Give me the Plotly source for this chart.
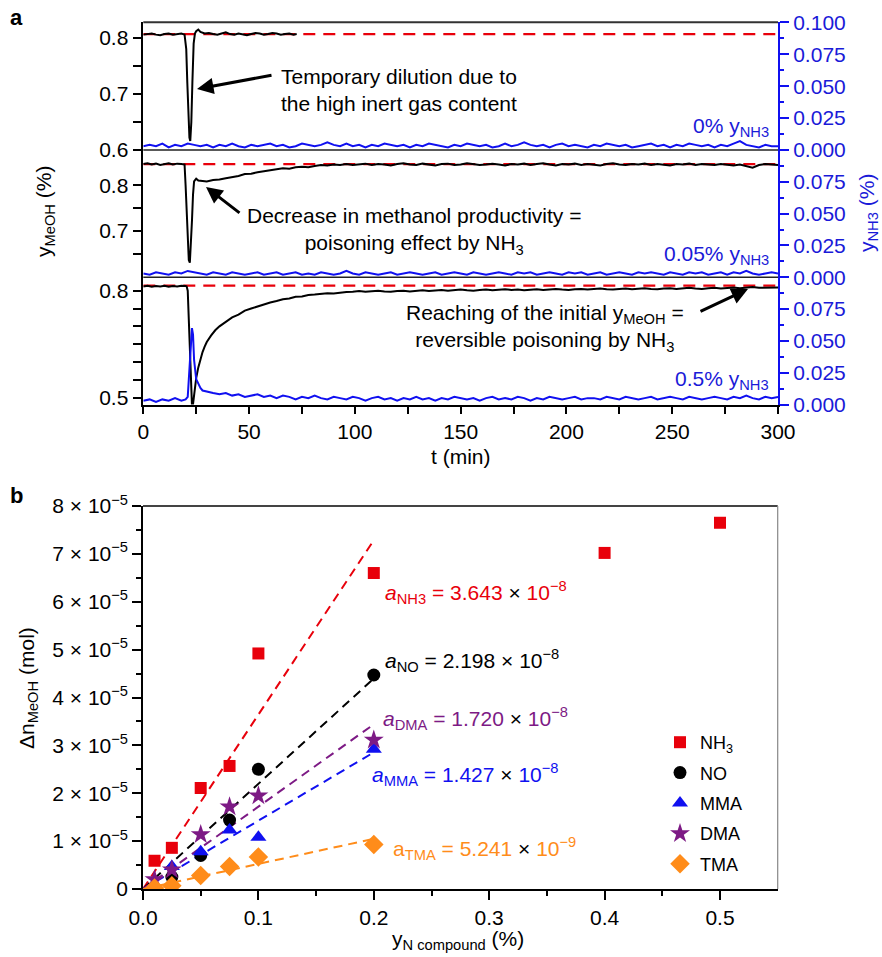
import plotly.graph_objects as go

W, H = 882, 957
def px(x): return x / W
def py(y): return 1 - y / H

# ---------------- panel a data ----------------
# panel 1 (0 % NH3) : methanol signal
t_meoh_1 = [0, 2, 4, 6, 8, 10, 12, 14, 16, 18,
            19.5, 20.3, 20.8, 21.3, 21.8, 22.2, 22.7, 23.2, 23.8, 24.4,
            25, 26, 27,
            29, 31, 33, 35, 37, 39, 41, 43, 45, 47, 49, 51, 53, 55, 57, 59, 61, 63, 65, 67, 69, 71,
            72.5]
y_meoh_1 = [0.806, 0.807, 0.808, 0.806, 0.805, 0.807, 0.808, 0.806, 0.807, 0.808,
            0.806, 0.780, 0.720, 0.660, 0.622, 0.616, 0.650, 0.720, 0.790, 0.808,
            0.812, 0.815, 0.811,
            0.808, 0.809, 0.807, 0.806, 0.808, 0.810, 0.807, 0.806, 0.808, 0.807, 0.805, 0.807,
            0.809, 0.808, 0.806, 0.807, 0.809, 0.808, 0.806, 0.807, 0.808, 0.806,
            0.807]

# panel 2 (0.05 % NH3)
t_meoh_2 = [0, 2, 4, 6, 8, 10, 12, 14, 16, 18,
            19.5, 20, 20.5, 21, 21.5, 22, 22.5, 23, 23.5, 24, 25, 26, 28] + list(range(30, 301, 3))
y_meoh_2 = [0.847, 0.849, 0.846, 0.848, 0.845, 0.847, 0.849, 0.846, 0.848, 0.847,
            0.846, 0.800, 0.742, 0.684, 0.636, 0.630, 0.664, 0.722, 0.780, 0.809, 0.815, 0.811, 0.810,
            0.809, 0.812, 0.813, 0.816, 0.818, 0.821, 0.825, 0.826, 0.829, 0.831,
            0.833, 0.835, 0.838, 0.837, 0.840, 0.841, 0.840, 0.843, 0.845, 0.844,
            0.846, 0.845, 0.847, 0.845, 0.846, 0.848, 0.845, 0.847, 0.846, 0.844,
            0.847, 0.849, 0.846, 0.845, 0.848, 0.846, 0.844, 0.847, 0.848, 0.845,
            0.846, 0.849, 0.847, 0.845, 0.846, 0.848, 0.846, 0.844, 0.847, 0.846,
            0.848, 0.845, 0.847, 0.849, 0.846, 0.844, 0.847, 0.846, 0.848, 0.845,
            0.847, 0.846, 0.844, 0.847, 0.849, 0.846, 0.845, 0.847, 0.846, 0.848,
            0.845, 0.847, 0.846, 0.844, 0.847, 0.846, 0.848, 0.845, 0.847, 0.846,
            0.845, 0.847, 0.846, 0.844, 0.846, 0.842, 0.839, 0.845, 0.847, 0.846,
            0.845]

# panel 3 (0.5 % NH3)
t_meoh_3 = [0, 2, 4, 6, 8, 10, 12, 14, 16, 18, 20,
            20.5, 21, 21.5, 22, 22.5, 23, 23.5, 24, 25, 26, 27, 28, 29, 30, 32, 34] + list(range(36, 301, 3))
y_meoh_3 = [0.812, 0.814, 0.811, 0.813, 0.812, 0.814, 0.811, 0.813, 0.812, 0.814, 0.813,
            0.812, 0.800, 0.720, 0.620, 0.530, 0.480, 0.482, 0.510, 0.555, 0.585, 0.610, 0.628,
            0.643, 0.656, 0.674, 0.689,
            0.700, 0.712, 0.725, 0.733, 0.744, 0.750, 0.756, 0.763, 0.767, 0.771,
            0.776, 0.778, 0.783, 0.784, 0.788, 0.789, 0.791, 0.793, 0.792, 0.795,
            0.796, 0.797, 0.799, 0.797, 0.798, 0.800, 0.798, 0.797, 0.799, 0.800,
            0.798, 0.800, 0.801, 0.799, 0.800, 0.802, 0.800, 0.801, 0.803, 0.801,
            0.800, 0.802, 0.803, 0.801, 0.802, 0.804, 0.802, 0.803, 0.801, 0.803,
            0.804, 0.802, 0.803, 0.805, 0.803, 0.802, 0.804, 0.805, 0.803, 0.804,
            0.806, 0.804, 0.803, 0.805, 0.806, 0.804, 0.805, 0.807, 0.805, 0.804,
            0.806, 0.807, 0.805, 0.806, 0.808, 0.806, 0.805, 0.807, 0.808, 0.806,
            0.807, 0.809, 0.807, 0.808, 0.810, 0.808, 0.809, 0.808, 0.809]

# NH3 signals (right axis)
t_nh3_12 = list(range(0, 301, 3))
y_nh3_1 = [0.003, 0.004, 0.003, 0.005, 0.002, 0.004, 0.003, 0.005, 0.004, 0.003,
           0.004, 0.002, 0.004, 0.003, 0.005, 0.003, 0.002, 0.004, 0.003, 0.004,
           0.005, 0.003, 0.004, 0.002, 0.003, 0.005, 0.004, 0.003, 0.004, 0.006,
           0.004, 0.003, 0.005, 0.003, 0.004, 0.002, 0.004, 0.003, 0.005, 0.004,
           0.003, 0.004, 0.002, 0.004, 0.003, 0.005, 0.004, 0.003, 0.002, 0.004,
           0.003, 0.005, 0.004, 0.003, 0.004, 0.002, 0.003, 0.005, 0.003, 0.004,
           0.006, 0.004, 0.003, 0.004, 0.002, 0.004, 0.005, 0.003, 0.004, 0.003,
           0.002, 0.004, 0.003, 0.005, 0.004, 0.003, 0.004, 0.002, 0.003, 0.004,
           0.005, 0.003, 0.004, 0.002, 0.004, 0.003, 0.005, 0.004, 0.003, 0.004,
           0.002, 0.004, 0.003, 0.005, 0.007, 0.004, 0.003, 0.002, 0.004, 0.003,
           0.003]
y_nh3_2 = [0.003, 0.002, 0.004, 0.003, 0.002, 0.004, 0.003, 0.005, 0.004, 0.003,
           0.002, 0.004, 0.003, 0.002, 0.004, 0.003, 0.002, 0.003, 0.004, 0.002,
           0.003, 0.004, 0.002, 0.003, 0.004, 0.002, 0.003, 0.002, 0.004, 0.003,
           0.002, 0.003, 0.005, 0.003, 0.002, 0.004, 0.003, 0.002, 0.003, 0.004,
           0.002, 0.003, 0.004, 0.003, 0.002, 0.003, 0.004, 0.002, 0.003, 0.004,
           0.003, 0.002, 0.004, 0.003, 0.002, 0.003, 0.004, 0.003, 0.002, 0.004,
           0.003, 0.004, 0.002, 0.003, 0.004, 0.003, 0.002, 0.004, 0.003, 0.004,
           0.002, 0.003, 0.004, 0.002, 0.003, 0.004, 0.003, 0.002, 0.004, 0.003,
           0.004, 0.003, 0.002, 0.004, 0.003, 0.002, 0.004, 0.003, 0.004, 0.002,
           0.003, 0.004, 0.002, 0.004, 0.003, 0.005, 0.003, 0.002, 0.003, 0.004,
           0.003]
t_nh3_3 = [0, 3, 6, 9, 12, 15, 18, 20, 21, 21.5, 22, 22.5, 23, 23.5, 24, 25, 26, 27, 28, 30] + list(range(33, 301, 3))
y_nh3_3 = [0.003, 0.004, 0.002, 0.004, 0.003, 0.005, 0.003, 0.004, 0.006, 0.020,
           0.040, 0.055, 0.060, 0.055, 0.035, 0.020, 0.016, 0.013, 0.011, 0.010,
           0.009, 0.008, 0.009, 0.007, 0.008, 0.006, 0.007, 0.008, 0.006, 0.007,
           0.005, 0.007, 0.006, 0.004, 0.006, 0.005, 0.007, 0.005, 0.004, 0.006,
           0.005, 0.004, 0.006, 0.005, 0.003, 0.005, 0.006, 0.004, 0.005, 0.003,
           0.005, 0.004, 0.006, 0.004, 0.005, 0.003, 0.005, 0.004, 0.006, 0.005,
           0.004, 0.005, 0.003, 0.005, 0.006, 0.004, 0.005, 0.004, 0.006, 0.005,
           0.003, 0.005, 0.004, 0.006, 0.005, 0.004, 0.005, 0.006, 0.004, 0.005,
           0.005, 0.004, 0.006, 0.005, 0.004, 0.006, 0.005, 0.004, 0.005, 0.006,
           0.004, 0.005, 0.006, 0.005, 0.004, 0.006, 0.005, 0.004, 0.005, 0.006,
           0.005, 0.004, 0.006, 0.005, 0.007, 0.005, 0.004, 0.006, 0.005, 0.006]
initial_meoh = [0.807, 0.847, 0.814]
panel_labels = ["0% y<sub>NH3</sub>", "0.05% y<sub>NH3</sub>", "0.5% y<sub>NH3</sub>"]

# ---------------- panel b data ----------------
series = ["NH<sub>3</sub>", "NO", "MMA", "DMA", "TMA"]
x_nh3 = [0.01, 0.025, 0.05, 0.075, 0.1, 0.2, 0.4, 0.5]
dn_nh3 = [0.59e-5, 0.86e-5, 2.11e-5, 2.57e-5, 4.92e-5, 6.60e-5, 7.02e-5, 7.65e-5]
x_no = [0.025, 0.05, 0.075, 0.1, 0.2]
dn_no = [0.25e-5, 0.70e-5, 1.44e-5, 2.50e-5, 4.47e-5]
x_mma = [0.025, 0.05, 0.075, 0.1, 0.2]
dn_mma = [0.47e-5, 0.78e-5, 1.23e-5, 1.08e-5, 2.92e-5]
x_dma = [0.01, 0.025, 0.05, 0.075, 0.1, 0.2]
dn_dma = [0.20e-5, 0.40e-5, 1.14e-5, 1.72e-5, 1.95e-5, 3.11e-5]
x_tma = [0.01, 0.025, 0.05, 0.075, 0.1, 0.2]
dn_tma = [0.02e-5, 0.07e-5, 0.28e-5, 0.47e-5, 0.67e-5, 0.93e-5]
slopes = [3.643e-8, 2.198e-8, 1.427e-8, 1.720e-8, 5.241e-9]   # mol per ppm
fit_range = [0.0, 0.2]
ytick_vals_b = [0, 1e-5, 2e-5, 3e-5, 4e-5, 5e-5, 6e-5, 7e-5, 8e-5]
ytick_text_b = ["0"] + [f"{i} × 10<sup>−5</sup>" for i in range(1, 9)]

# ---------------- styling ----------------
RED = "#e8000b"
BLUE = "#1010f0"
TBLUE = "#1a1ad8"
PURPLE = "#7d1a85"
ORANGE = "#ff8c1a"
FONT = "Liberation Sans, Arial, sans-serif"
FS = 21

fig = go.Figure()

panels = [
    (t_meoh_1, y_meoh_1, t_nh3_12, y_nh3_1, "y", "y4"),
    (t_meoh_2, y_meoh_2, t_nh3_12, y_nh3_2, "y2", "y5"),
    (t_meoh_3, y_meoh_3, t_nh3_3, y_nh3_3, "y3", "y6"),
]
for i, (tm, ym, tn, yn, ya, yb) in enumerate(panels):
    fig.add_trace(go.Scatter(x=[0, 300], y=[initial_meoh[i]] * 2, mode="lines", xaxis="x", yaxis=ya,
                             line=dict(color=RED, width=2.2, dash="12px,8px"), showlegend=False))
    fig.add_trace(go.Scatter(x=tm, y=ym, mode="lines", xaxis="x", yaxis=ya,
                             line=dict(color="black", width=2), showlegend=False))
    fig.add_trace(go.Scatter(x=tn, y=yn, mode="lines", xaxis="x", yaxis=yb,
                             line=dict(color=BLUE, width=2), showlegend=False))

# panel b
pts = [
    (x_nh3, dn_nh3, RED, "square", 12),
    (x_no, dn_no, "black", "circle", 13),
    (x_mma, dn_mma, BLUE, "triangle-up", 14),
    (x_dma, dn_dma, PURPLE, "star", 15),
    (x_tma, dn_tma, ORANGE, "diamond", 15),
]
for (xs, ys, col, sym, sz), a in zip(pts, slopes):
    fig.add_trace(go.Scatter(x=fit_range, y=[a * v * 1e4 for v in fit_range], mode="lines",
                             xaxis="x2", yaxis="y7", line=dict(color=col, width=2, dash="9px,6px"),
                             showlegend=False, hoverinfo="skip"))
for name, (xs, ys, col, sym, sz) in zip(series, pts):
    fig.add_trace(go.Scatter(x=xs, y=ys, mode="markers", name=name, xaxis="x2", yaxis="y7",
                             marker=dict(color=col, symbol=sym, size=sz, line=dict(width=0)),
                             legendgroup=name))

left_common = dict(showgrid=False, zeroline=False, showline=True, linecolor="black", linewidth=1.5,
                   ticks="outside", ticklen=9, tickwidth=1.5, tickcolor="black", automargin=False,
                   tickfont=dict(size=FS, color="black"), anchor="x")
right_common = dict(showgrid=False, zeroline=False, showline=True, linecolor=BLUE, linewidth=2,
                    ticks="outside", ticklen=9, tickwidth=1.5, tickcolor=BLUE, side="right",
                    tickfont=dict(size=FS, color=TBLUE), anchor="x", range=[0, 0.1], automargin=False,
                    minor=dict(ticks="outside", ticklen=4, tickcolor=BLUE,
                               tickvals=[0.0125, 0.0375, 0.0625, 0.0875]))

d1 = [py(150), py(22.3)]
d2 = [py(277.3), py(150)]
d3 = [py(404.5), py(277.3)]

fig.update_layout(
    width=W, height=957, autosize=False,
    margin=dict(l=0, r=0, t=0, b=0),
    paper_bgcolor="white", plot_bgcolor="rgba(0,0,0,0)",
    font=dict(family=FONT, size=FS, color="black"),
    xaxis=dict(domain=[px(143.3), px(778)], range=[0, 300], anchor="y3", automargin=False,
               showgrid=False, zeroline=False, showline=True, linecolor="black", linewidth=1.5,
               ticks="outside", ticklen=8, tickwidth=1.5, tickcolor="black",
               tickvals=[0, 50, 100, 150, 200, 250, 300], tickfont=dict(size=FS),
               minor=dict(ticks="outside", ticklen=8, tickcolor="black", tickvals=[25, 75, 125, 175, 225, 275])),
    yaxis=dict(domain=d1, range=[0.6, 0.828], tickvals=[0.6, 0.65, 0.7, 0.75, 0.8],
               ticktext=["0.6", "", "0.7", "", "0.8"], **left_common),
    yaxis2=dict(domain=d2, range=[0.598, 0.878], tickvals=[0.65, 0.7, 0.75, 0.8],
                ticktext=["", "0.7", "", "0.8"], **left_common),
    yaxis3=dict(domain=d3, range=[0.481, 0.8375], tickvals=[0.5, 0.55, 0.6, 0.65, 0.7, 0.75, 0.8],
                ticktext=["0.5", "", "", "", "", "", "0.8"], **left_common),
    yaxis4=dict(overlaying="y", tickvals=[0, 0.025, 0.05, 0.075, 0.1],
                ticktext=["0.000", "0.025", "0.050", "0.075", "0.100"], **right_common),
    yaxis5=dict(overlaying="y2", tickvals=[0, 0.025, 0.05, 0.075],
                ticktext=["0.000", "0.025", "0.050", "0.075"], **right_common),
    yaxis6=dict(overlaying="y3", tickvals=[0, 0.025, 0.05, 0.075],
                ticktext=["0.000", "0.025", "0.050", "0.075"], **right_common),
    xaxis2=dict(domain=[px(143), px(777.7)], range=[0, 0.55], anchor="y7", automargin=False,
                showgrid=False, zeroline=False, showline=True, linecolor="black", linewidth=1.5,
                ticks="outside", ticklen=9, tickwidth=1.5, tickcolor="black",
                tickvals=[0, 0.1, 0.2, 0.3, 0.4, 0.5], ticktext=["0.0", "0.1", "0.2", "0.3", "0.4", "0.5"],
                tickfont=dict(size=FS),
                minor=dict(ticks="outside", ticklen=5, tickcolor="black", tickvals=[0.05, 0.15, 0.25, 0.35, 0.45])),
    yaxis7=dict(domain=[py(889), py(506)], range=[0, 8e-5], anchor="x2", automargin=False,
                showgrid=False, zeroline=False, showline=True, linecolor="black", linewidth=1.5,
                ticks="outside", ticklen=9, tickwidth=1.5, tickcolor="black",
                tickvals=ytick_vals_b, ticktext=ytick_text_b, tickfont=dict(size=FS),
                minor=dict(ticks="outside", ticklen=5, tickcolor="black",
                           tickvals=[0.5e-5, 1.5e-5, 2.5e-5, 3.5e-5, 4.5e-5, 5.5e-5, 6.5e-5, 7.5e-5])),
    legend=dict(x=px(660), y=py(724), xanchor="left", yanchor="top", font=dict(size=18),
                bgcolor="rgba(0,0,0,0)", traceorder="grouped", tracegroupgap=4, itemwidth=30),
    showlegend=True,
)

shapes = [
    dict(type="line", xref="paper", yref="paper", x0=px(143.3), x1=px(778), y0=py(22.3), y1=py(22.3),
         line=dict(color="#333333", width=2)),
    dict(type="line", xref="paper", yref="paper", x0=px(143.3), x1=px(778), y0=py(150), y1=py(150),
         line=dict(color="#222222", width=1.5)),
    dict(type="line", xref="paper", yref="paper", x0=px(143.3), x1=px(778), y0=py(277.3), y1=py(277.3),
         line=dict(color="#222222", width=1.5)),
    dict(type="line", xref="paper", yref="paper", x0=px(143), x1=px(777.7), y0=py(506), y1=py(506),
         line=dict(color="#444444", width=2)),
    dict(type="line", xref="paper", yref="paper", x0=px(777.7), x1=px(777.7), y0=py(506), y1=py(889),
         line=dict(color="#888888", width=1.2)),
]
fig.update_layout(shapes=shapes)

ann = []
def txt(x, y, text, size=FS, color="black", xanchor="center", yanchor="middle", angle=0, align="center"):
    ann.append(dict(x=px(x), y=py(y), xref="paper", yref="paper", text=text, showarrow=False,
                    font=dict(size=size, color=color, family=FONT), xanchor=xanchor, yanchor=yanchor,
                    textangle=angle, align=align))

def arrow(x_head, y_head, x_tail, y_tail):
    ann.append(dict(x=px(x_head), y=py(y_head), xref="paper", yref="paper",
                    ax=x_tail - x_head, ay=y_tail - y_head, axref="pixel", ayref="pixel", text="",
                    showarrow=True, arrowhead=2, arrowsize=1.1, arrowwidth=3, arrowcolor="black"))

txt(16, 18, "<b>a</b>", size=22)
txt(16, 495, "<b>b</b>", size=22)
txt(399, 90, "Temporary dilution due to<br>the high inert gas content")
arrow(197, 89, 273, 75)
txt(414, 231, "Decrease in methanol productivity =<br>poisoning effect by NH<sub>3</sub>")
arrow(206, 187, 241, 214)
txt(545, 328, "Reaching of the initial y<sub>MeOH</sub> =<br>reversible poisoning by NH<sub>3</sub>")
arrow(748, 289, 699, 312)
for lab, yy in zip(panel_labels, [127, 255, 380]):
    txt(771, yy, lab, color=TBLUE, xanchor="right")
txt(45, 212, "y<sub>MeOH</sub> (%)", angle=-90)
txt(868, 213, "y<sub>NH3</sub> (%)", angle=-90, color=TBLUE)
txt(461, 456, "t (min)")
txt(458, 940, "y<sub>N compound</sub> (%)")
txt(28, 688, "Δn<sub>MeOH</sub> (mol)", angle=-90)

txt(383, 592, "<i>a</i><sub>NH3</sub> = 3.643 <span style='color:black'>×</span> 10<sup>−8</sup>",
    color=RED, xanchor="left")
txt(383, 660, "<i>a</i><sub>NO</sub> = 2.198 × 10<sup>−8</sup>", color="black", xanchor="left")
txt(381, 718, "<i>a</i><sub>DMA</sub> = 1.720 <span style='color:black'>×</span> 10<sup>−8</sup>",
    color=PURPLE, xanchor="left")
txt(370, 774, "<i>a</i><sub>MMA</sub> = 1.427 <span style='color:black'>×</span> 10<sup>−8</sup>",
    color=BLUE, xanchor="left")
txt(391, 848, "a<sub>TMA</sub> = 5.241 <span style='color:black'>×</span> 10<sup>−9</sup>",
    color=ORANGE, xanchor="left")

fig.update_layout(annotations=ann)
fig.write_html("out.html", config={"displayModeBar": False},
               post_script="document.body.style.margin='0px';")
